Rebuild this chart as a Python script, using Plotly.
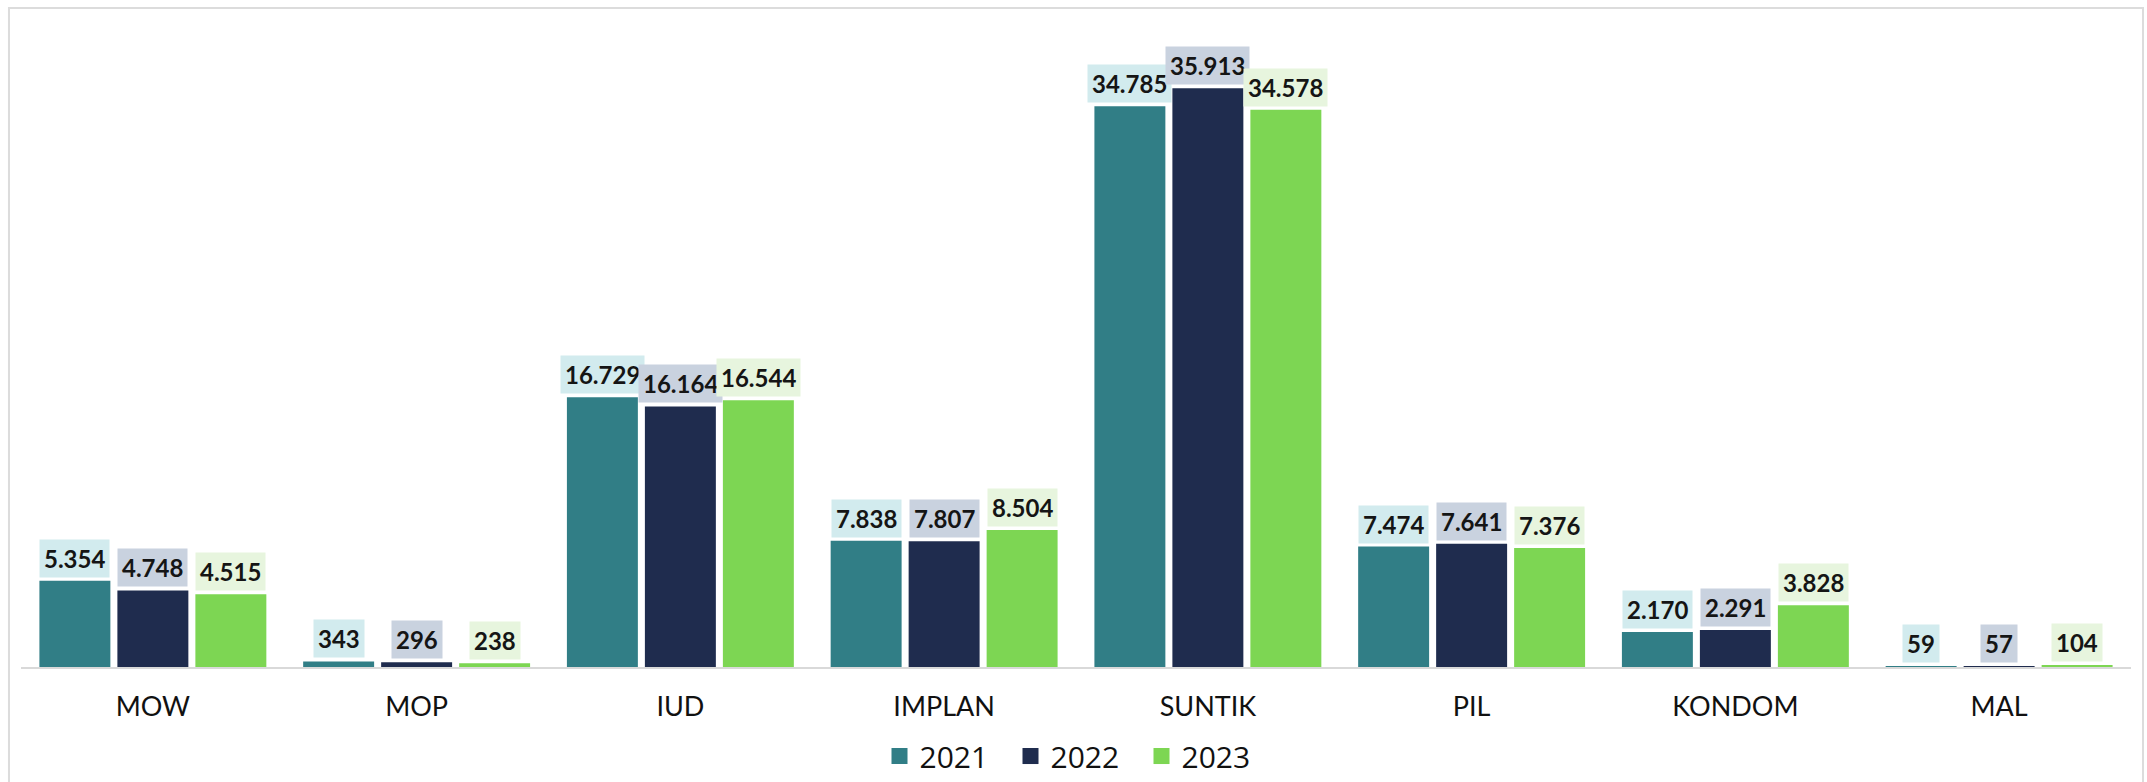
import plotly.graph_objects as go

categories = ["MOW", "MOP", "IUD", "IMPLAN", "SUNTIK", "PIL", "KONDOM", "MAL"]
years = ["2021", "2022", "2023"]
v2021 = [5354, 343, 16729, 7838, 34785, 7474, 2170, 59]
v2022 = [4748, 296, 16164, 7807, 35913, 7641, 2291, 57]
v2023 = [4515, 238, 16544, 8504, 34578, 7376, 3828, 104]

series = [v2021, v2022, v2023]
bar_colors = ["#317e86", "#1f2c4e", "#7dd653"]
label_bg = ["#d2ebee", "#c9d2df", "#e7f5de"]

def fmt(v):
    return f"{v:,}".replace(",", ".")

fig = go.Figure()
for name, vals, col in zip(years, series, bar_colors):
    fig.add_trace(go.Bar(x=categories, y=vals, name=name, marker_color=col,
                         marker_line_width=0, showlegend=False, hoverinfo="skip"))
# legend entries with larger square markers
for name, col in zip(years, bar_colors):
    fig.add_trace(go.Scatter(x=[None], y=[None], mode="markers", name=name,
                             marker=dict(symbol="square", size=18, color=col)))

# value labels with background boxes
slot_px = 78
shifts = [-slot_px, 0, slot_px]
annotations = []
for vals, bg, sh in zip(series, label_bg, shifts):
    for c, v in zip(categories, vals):
        annotations.append(dict(
            x=c, y=v, xref="x", yref="y", text=f"<b>{fmt(v)}</b>",
            showarrow=False, yanchor="bottom", xshift=sh, yshift=3,
            bgcolor=bg, borderpad=4,
            font=dict(family="Lato, Open Sans, sans-serif", size=24, color="#151515")))

fig.update_layout(
    width=2147, height=782,
    margin=dict(l=21, r=16, t=40, b=115, autoexpand=False),
    paper_bgcolor="white", plot_bgcolor="white",
    barmode="group", bargap=0.113, bargroupgap=0.09,
    annotations=annotations,
    showlegend=True,
    legend=dict(orientation="h", x=0.5, xanchor="center", y=-0.142, yanchor="middle",
                font=dict(family="Open Sans, Lato, sans-serif", size=30, color="#111111"),
                entrywidth=86, itemclick=False, itemdoubleclick=False,
                bgcolor="rgba(0,0,0,0)"),
    shapes=[dict(type="rect", xref="paper", yref="paper",
                 x0=-0.0057, x1=1.0057, y0=-0.3, y1=1.051,
                 line=dict(color="#dcdcdc", width=2), fillcolor="rgba(0,0,0,0)", layer="below")],
)
fig.update_xaxes(showline=True, linecolor="#d9d9d9", linewidth=2, showgrid=False,
                 ticks="", ticklabelstandoff=15,
                 tickfont=dict(family="Lato, Open Sans, sans-serif", size=27, color="#111111"))
fig.update_yaxes(visible=False, range=[0, 38900], showgrid=False, zeroline=False)

fig.write_html("out.html", config={"displayModeBar": False},
               post_script="document.body.style.margin='0';")
